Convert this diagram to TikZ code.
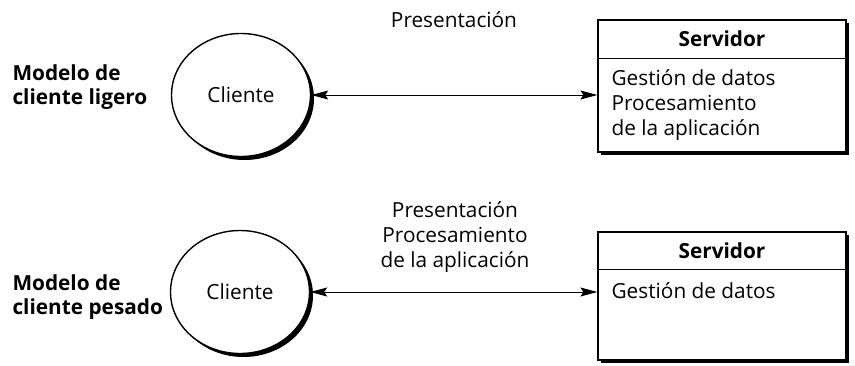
\documentclass[tikz,border=0pt]{standalone}
\usepackage{fontspec}
\setmainfont{Open Sans}
\usetikzlibrary{shapes.geometric, arrows.meta, shadows, positioning, calc}

\begin{document}
\begin{tikzpicture}[
    x=1pt, y=-1pt,
    font=\fontsize{20.8}{25}\selectfont,
    cliente/.style={draw, ellipse, line width=1.4pt, fill=white,
                    minimum width=139pt, minimum height=123pt,
                    drop shadow={shadow xshift=3.5pt, shadow yshift=-3.5pt, fill=black, opacity=1}},
    servidor/.style={draw, rectangle, line width=1.2pt, fill=white, minimum width=248pt,
                     drop shadow={shadow xshift=3pt, shadow yshift=-3pt, fill=black, opacity=1}},
    modelo/.style={font=\fontsize{20.8}{24}\selectfont\bfseries, align=left, anchor=west},
    etiqueta/.style={align=center},
    cuerpo/.style={align=left, anchor=north west, inner sep=0pt},
    flecha/.style={{Stealth[length=17pt,width=9pt,inset=3pt]}-{Stealth[length=17pt,width=9pt,inset=3pt]}, line width=1pt}]
    \useasboundingbox (0,0) rectangle (855,365);

    % cliente ligero
    \node[modelo] (modA) at (9, 87) {Modelo de\\cliente ligero};
    \node[cliente] (cliA) at (241, 95) {Cliente};
    \node[servidor, minimum height=132pt] (srvA) at (722, 86) {};
    \coordinate (cabA) at ([yshift=-39pt]srvA.north west);
    \draw[line width=1pt] (cabA) -- (cabA -| srvA.east);
    \node[font=\fontsize{20.8}{25}\selectfont\bfseries] (tituloA) at ($(srvA.north)!0.5!(srvA.north |- cabA)$) {Servidor};
    \node[cuerpo] (datosA) at ([xshift=14pt, yshift=-11pt]cabA) {Gestión de datos\\Procesamiento\\de la aplicación};
    \node[etiqueta] (presA) at (454, 20) {Presentación};
    \draw[flecha] (cliA.east) -- (cliA.east -| srvA.west);

    % cliente pesado
    \node[modelo] (modB) at (9, 297) {Modelo de\\cliente pesado};
    \node[cliente] (cliB) at (240, 292) {Cliente};
    \node[servidor, minimum height=128pt] (srvB) at (722, 296) {};
    \coordinate (cabB) at ([yshift=-38pt]srvB.north west);
    \draw[line width=1pt] (cabB) -- (cabB -| srvB.east);
    \node[font=\fontsize{20.8}{25}\selectfont\bfseries] (tituloB) at ($(srvB.north)!0.5!(srvB.north |- cabB)$) {Servidor};
    \node[cuerpo] (datosB) at ([xshift=14pt, yshift=-13pt]cabB) {Gestión de datos};
    \node[etiqueta] (presB) at (455, 237) {Presentación\\Procesamiento\\de la aplicación};
    \draw[flecha] (cliB.east) -- (cliB.east -| srvB.west);
\end{tikzpicture}
\end{document}
